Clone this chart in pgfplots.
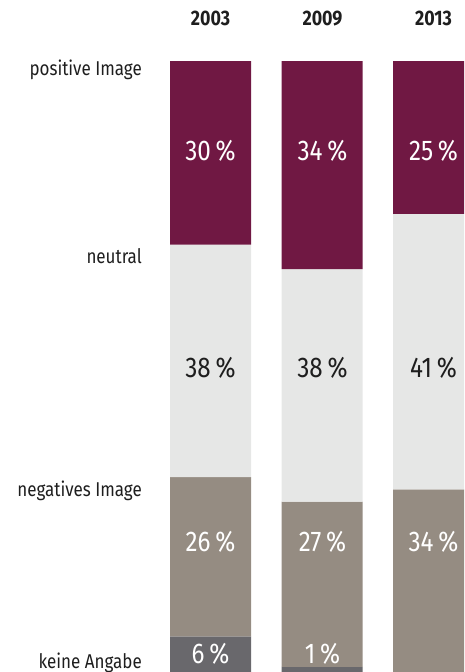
\documentclass[border=0pt]{standalone}
\usepackage{fontspec}
\setmainfont{Fira Sans}[FakeStretch=0.85]
\usepackage{pgfplots}
\pgfplotsset{compat=1.18}
\definecolor{cpos}{HTML}{701843}
\definecolor{cneu}{HTML}{E6E7E6}
\definecolor{cneg}{HTML}{958C82}
\definecolor{ckA}{HTML}{69686C}
\definecolor{ctxt}{HTML}{1E1E1E}
\begin{document}
\begin{tikzpicture}
\useasboundingbox (0,0) rectangle (464pt,672pt);
\begin{axis}[
  at={(170pt,611pt)}, anchor=north west,
  scale only axis, width=294pt, height=611pt,
  xmin=-0.3632, xmax=2.2735, ymin=0, ymax=99.84,
  y dir=reverse,
  hide axis,
  ybar stacked, bar width=0.7265,
  every axis plot/.append style={draw=none},
]
\addplot[fill=cpos] coordinates {(0,30) (1,34) (2,25)};
\addplot[fill=cneu] coordinates {(0,38) (1,38) (2,45)};
\addplot[fill=cneg] coordinates {(0,26) (1,27) (2,34)};
\addplot[fill=ckA] coordinates {(0,6) (1,1) (2,0)};
\end{axis}
% years
\foreach \x/\t in {210.5/2003, 322.5/2009, 433.5/2013}
  \node[anchor=base, font=\fontsize{21}{24}\selectfont\bfseries, text=ctxt, inner sep=0] at (\x pt, 672pt-26pt) {\t};
% row labels
\foreach \y/\t in {76/positive Image, 264/neutral, 497/negatives Image, 668/keine Angabe}
  \node[anchor=base east, font=\fontsize{20}{23}\selectfont, text=ctxt, inner sep=0] at (142pt, 672pt-\y pt) {\t};
% value labels
\foreach \x/\t in {210.5/30, 322.5/34, 433.5/25}
  \node[anchor=base, font=\fontsize{28.5}{32}\selectfont, text=white, inner sep=0] at (\x pt, 672pt-161pt) {\t\,\%};
\foreach \x/\t in {210.5/38, 322.5/38, 433.5/41}
  \node[anchor=base, font=\fontsize{28.5}{32}\selectfont, text=ctxt, inner sep=0] at (\x pt, 672pt-378pt) {\t\,\%};
\foreach \x/\t in {210.5/26, 322.5/27, 433.5/34}
  \node[anchor=base, font=\fontsize{28.5}{32}\selectfont, text=white, inner sep=0] at (\x pt, 672pt-552pt) {\t\,\%};
\foreach \x/\t in {210.5/6, 322.5/1}
  \node[anchor=base, font=\fontsize{28.5}{32}\selectfont, text=white, inner sep=0] at (\x pt, 672pt-663pt) {\t\,\%};
\end{tikzpicture}
\end{document}
